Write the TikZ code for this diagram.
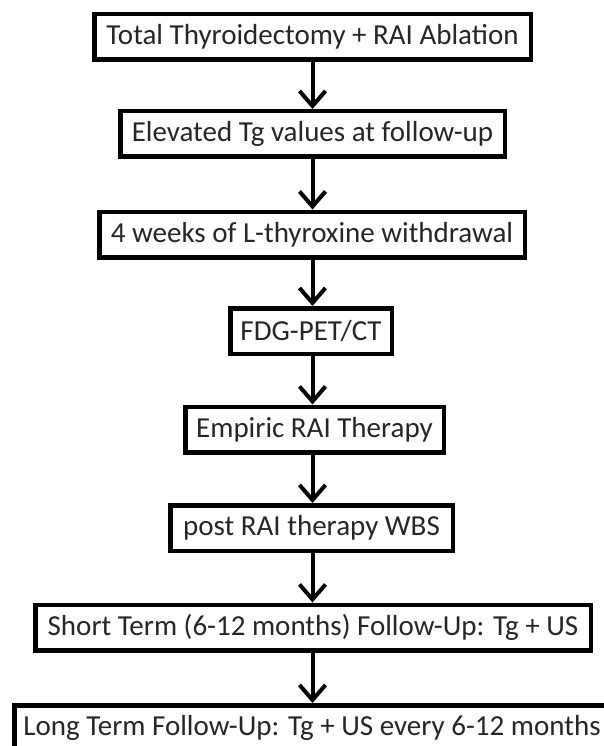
\documentclass[tikz,border=0pt]{standalone}
\usepackage{fontspec}
\setmainfont{Carlito}
\usetikzlibrary{arrows.meta}
\begin{document}
\begin{tikzpicture}[x=1pt,y=-1pt,
  flowbox/.style={draw=black, line width=4.5pt, fill=white, inner sep=0pt,
    minimum height=45.5pt, font=\fontsize{29}{35}\selectfont, text=black!85},
  flowarrow/.style={line width=4pt, -{Straight Barb[length=15pt,width=26pt,line width=4pt]}}]
\useasboundingbox (0,0) rectangle (603,746);
\fill[white] (0,0) rectangle (603,746);
\node[flowbox, minimum width=436.5pt] (b1) at (312.5,37) {Total Thyroidectomy + RAI Ablation};
\node[flowbox, minimum width=384.5pt] (b2) at (312.5,134) {Elevated Tg values at follow-up};
\node[flowbox, minimum width=425.5pt] (b3) at (312,234.5) {4 weeks of L-thyroxine withdrawal};
\node[flowbox, minimum width=161.5pt] (b4) at (311,331) {FDG-PET/CT};
\node[flowbox, minimum width=258.5pt] (b5) at (314.5,429.5) {Empiric RAI Therapy};
\node[flowbox, minimum width=282.5pt] (b6) at (311.5,528) {post RAI therapy WBS};
\node[flowbox, minimum width=555.5pt] (b7) at (313,627.5) {Short Term (6-12 months) Follow-Up: Tg + US};
\node[flowbox, minimum width=595.5pt] (b8) at (312,728) {Long Term Follow-Up: Tg + US every 6-12 months};
\foreach \a/\b in {b1/b2,b2/b3,b3/b4,b4/b5,b5/b6,b6/b7,b7/b8}
  \draw[flowarrow] (\a.south -| 312.5,0) -- (\b.north -| 312.5,0);
\end{tikzpicture}
\end{document}
